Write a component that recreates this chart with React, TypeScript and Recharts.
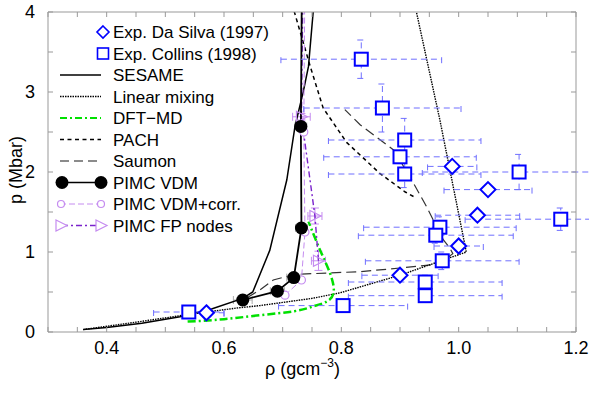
import { ComposedChart, Line, Scatter, XAxis, YAxis, ErrorBar } from 'recharts'

// experimental Hugoniot points, x = density, y = pressure, ex / ey = error
const daSilva = [
  { x: 0.57, y: 0.24, ex: 0.03 },
  { x: 0.9, y: 0.71, ex: 0.065 },
  { x: 1.0, y: 1.075, ex: 0.042 },
  { x: 1.032, y: 1.46, ex: 0.072 },
  { x: 1.05, y: 1.78, ex: 0.075 },
  { x: 0.989, y: 2.07, ex: 0.042 },
]

const collins = [
  { x: 0.834, y: 3.41, ex: 0.137, ey: 0.24 },
  { x: 0.87, y: 2.8, ex: 0.134, ey: 0.3 },
  { x: 0.908, y: 2.4, ex: 0.13, ey: 0.27 },
  { x: 0.9, y: 2.19, ex: 0.13, ey: 0 },
  { x: 0.908, y: 1.975, ex: 0.13, ey: 0.17 },
  { x: 1.103, y: 2.0, ex: 0.165, ey: 0.22 },
  { x: 1.174, y: 1.41, ex: 0.163, ey: 0.14 },
  { x: 0.968, y: 1.31, ex: 0.13, ey: 0.13 },
  { x: 0.961, y: 1.21, ex: 0.132, ey: 0.1 },
  { x: 0.972, y: 0.89, ex: 0.131, ey: 0.11 },
  { x: 0.943, y: 0.625, ex: 0.131, ey: 0 },
  { x: 0.943, y: 0.454, ex: 0.131, ey: 0 },
  { x: 0.803, y: 0.33, ex: 0.11, ey: 0 },
  { x: 0.54, y: 0.25, ex: 0.06, ey: 0 },
]

const sesame = [
  { x: 0.36, y: 0.03 },
  { x: 0.4, y: 0.055 },
  { x: 0.46, y: 0.11 },
  { x: 0.525, y: 0.19 },
  { x: 0.58, y: 0.29 },
  { x: 0.632, y: 0.42 },
  { x: 0.649, y: 0.5 },
  { x: 0.678, y: 1.02 },
  { x: 0.707, y: 1.9 },
  { x: 0.721, y: 2.57 },
  { x: 0.735, y: 3.0 },
  { x: 0.744, y: 3.32 },
  { x: 0.752, y: 4.0 },
]

const linearMixing = [
  { x: 0.36, y: 0.03 },
  { x: 0.457, y: 0.13 },
  { x: 0.54, y: 0.22 },
  { x: 0.622, y: 0.3 },
  { x: 0.661, y: 0.33 },
  { x: 0.75, y: 0.42 },
  { x: 0.798, y: 0.49 },
  { x: 0.872, y: 0.65 },
  { x: 0.9, y: 0.71 },
  { x: 1.013, y: 1.0 },
  { x: 0.968, y: 2.65 },
  { x: 0.928, y: 4.0 },
]

const dftMd = [
  { x: 0.538, y: 0.13 },
  { x: 0.6, y: 0.16 },
  { x: 0.661, y: 0.21 },
  { x: 0.72, y: 0.26 },
  { x: 0.752, y: 0.32 },
  { x: 0.775, y: 0.38 },
  { x: 0.787, y: 0.5 },
  { x: 0.781, y: 0.73 },
  { x: 0.764, y: 1.02 },
  { x: 0.744, y: 1.38 },
]

const pach = [
  { x: 0.716, y: 4.1 },
  { x: 0.747, y: 3.32 },
  { x: 0.769, y: 2.8 },
  { x: 0.809, y: 2.37 },
  { x: 0.866, y: 1.98 },
  { x: 0.909, y: 1.75 },
  { x: 0.924, y: 1.69 },
]

const saumon = [
  { x: 0.64, y: 0.43 },
  { x: 0.661, y: 0.525 },
  { x: 0.684, y: 0.65 },
  { x: 0.72, y: 0.72 },
  { x: 0.832, y: 0.754 },
  { x: 0.9, y: 0.8 },
  { x: 0.968, y: 0.85 },
  { x: 0.99, y: 0.98 },
  { x: 0.985, y: 1.05 },
  { x: 0.974, y: 1.15 },
  { x: 0.945, y: 1.57 },
  { x: 0.917, y: 1.94 },
  { x: 0.889, y: 2.275 },
  { x: 0.832, y: 2.59 },
  { x: 0.806, y: 2.78 },
]

const pimcVdm = [
  { x: 0.632, y: 0.4 },
  { x: 0.691, y: 0.51 },
  { x: 0.719, y: 0.68 },
  { x: 0.732, y: 1.3 },
  { x: 0.731, y: 2.57 },
  { x: 0.733, y: 4.6 },
]

const pimcVdmCorr = [
  { x: 0.704, y: 0.46 },
  { x: 0.732, y: 0.65 },
  { x: 0.738, y: 1.25 },
  { x: 0.736, y: 2.5 },
  { x: 0.738, y: 4.6 },
]

const pimcFp = [
  { x: 0.761, y: 0.89 },
  { x: 0.755, y: 1.45 },
  { x: 0.732, y: 2.69 },
  { x: 0.735, y: 4.6 },
]

const vdmErr = [
  { x: 0.632, y: 0.4, ex: 0.016, ey: 0.06 },
  { x: 0.691, y: 0.51, ex: 0.012, ey: 0.05 },
  { x: 0.719, y: 0.68, ex: 0.012, ey: 0.05 },
  { x: 0.732, y: 1.3, ex: 0.01, ey: 0.06 },
  { x: 0.731, y: 2.57, ex: 0.01, ey: 0.06 },
]

const fpErr = [
  { x: 0.761, y: 0.89, ex: 0.012, ey: 0.12 },
  { x: 0.755, y: 1.45, ex: 0.012, ey: 0.1 },
  { x: 0.732, y: 2.69, ex: 0.015, ey: 0.04 },
]

const legendRows = [
  'Exp. Da Silva (1997)',
  'Exp. Collins (1998)',
  'SESAME',
  'Linear mixing',
  'DFT\u2212MD',
  'PACH',
  'Saumon',
  'PIMC VDM',
  'PIMC VDM+corr.',
  'PIMC FP nodes',
]

const xTicks = [0.3, 0.35, 0.4, 0.45, 0.5, 0.55, 0.6, 0.65, 0.7, 0.75, 0.8, 0.85, 0.9, 0.95, 1.0, 1.05, 1.1, 1.15, 1.2]
const xLabels = ['0.4', '0.6', '0.8', '1.0', '1.2']
const yTicks = [0, 0.5, 1, 1.5, 2, 2.5, 3, 3.5, 4]
const yLabels = ['0', '1', '2', '3', '4']

const FONT = '"Liberation Sans", Arial, Helvetica, sans-serif'
const BLUE = '#0000ff'
const ERR = '#6f6fff'
const PURPLE_LIGHT = '#c58cf0'
const PURPLE_DARK = '#7a22cc'
const GREEN = '#00e000'
const FRAME = '#999'

const fmtX = (v: number) => {
  const s = v.toFixed(1)
  return Math.abs(v - Number(s)) < 1e-6 && xLabels.includes(s) ? s : ''
}
const fmtY = (v: number) => (yLabels.includes(String(v)) ? String(v) : '')

const Square = (p: any) => (
  <rect x={p.cx - 6.5} y={p.cy - 6.5} width={13} height={13} fill="#fff" stroke={BLUE} strokeWidth={2} />
)

const Diamond = (p: any) => (
  <polygon
    points={`${p.cx},${p.cy - 7.5} ${p.cx + 7.5},${p.cy} ${p.cx},${p.cy + 7.5} ${p.cx - 7.5},${p.cy}`}
    fill="#fff"
    stroke={BLUE}
    strokeWidth={2}
  />
)

const NoShape = () => <g />

const tri = (cx: number, cy: number) => `${cx - 5},${cy - 5.5} ${cx + 6},${cy} ${cx - 5},${cy + 5.5}`

function vdmDot(p: any) {
  if (p.payload.y > 4) return <g key={p.index} />
  return <circle key={p.index} cx={p.cx} cy={p.cy} r={6.5} fill="#000" />
}

function corrDot(p: any) {
  if (p.payload.y > 4) return <g key={p.index} />
  return <circle key={p.index} cx={p.cx} cy={p.cy} r={4} fill="#fff" stroke={PURPLE_LIGHT} strokeWidth={1.2} />
}

function fpDot(p: any) {
  if (p.payload.y > 4) return <g key={p.index} />
  return <polygon key={p.index} points={tri(p.cx, p.cy)} fill="none" stroke={PURPLE_LIGHT} strokeWidth={1.2} />
}

function LegendBox() {
  const y0 = 32
  const dy = 21.5
  const cy = (i: number) => y0 + i * dy
  return (
    <svg width={300} height={240} style={{ position: 'absolute', left: 0, top: 0, pointerEvents: 'none' }}>
      <polygon points={`103,${cy(0) - 6} 109,${cy(0)} 103,${cy(0) + 6} 97,${cy(0)}`} fill="#fff" stroke={BLUE} strokeWidth={1.6} />
      <rect x={97.5} y={cy(1) - 5.5} width={11} height={11} fill="#fff" stroke={BLUE} strokeWidth={1.6} />
      <line x1={60} x2={101} y1={cy(2)} y2={cy(2)} stroke="#000" strokeWidth={1.3} />
      <line x1={60} x2={101} y1={cy(3)} y2={cy(3)} stroke="#000" strokeWidth={1.3} strokeDasharray="1.5 1" />
      <line x1={60} x2={101} y1={cy(4)} y2={cy(4)} stroke={GREEN} strokeWidth={2} strokeDasharray="7 3 2 3" />
      <line x1={60} x2={101} y1={cy(5)} y2={cy(5)} stroke="#000" strokeWidth={1.3} strokeDasharray="4 3.5" />
      <line x1={60} x2={101} y1={cy(6)} y2={cy(6)} stroke="#666" strokeWidth={1.3} strokeDasharray="9 5" />
      <line x1={61} x2={101} y1={cy(7)} y2={cy(7)} stroke="#000" strokeWidth={1.5} />
      <circle cx={62} cy={cy(7)} r={6.5} fill="#000" />
      <circle cx={101} cy={cy(7)} r={6.5} fill="#000" />
      <line x1={60} x2={101} y1={cy(8)} y2={cy(8)} stroke={PURPLE_LIGHT} strokeWidth={1} strokeDasharray="6 3" />
      <circle cx={61} cy={cy(8)} r={3.5} fill="#fff" stroke={PURPLE_LIGHT} strokeWidth={1.2} />
      <circle cx={101} cy={cy(8)} r={3.5} fill="#fff" stroke={PURPLE_LIGHT} strokeWidth={1.2} />
      <line x1={62} x2={99} y1={cy(9)} y2={cy(9)} stroke={PURPLE_DARK} strokeWidth={1.3} strokeDasharray="6 3 2 3" />
      <polygon points={tri(61, cy(9))} fill="#fff" stroke={PURPLE_LIGHT} strokeWidth={1.2} />
      <polygon points={tri(101, cy(9))} fill="#fff" stroke={PURPLE_LIGHT} strokeWidth={1.2} />
      {legendRows.map((r, i) => (
        <text key={r} x={113} y={cy(i) + 6} fontSize={17} fontFamily={FONT} fill="#000">
          {r}
        </text>
      ))}
    </svg>
  )
}

function XLabel(props: any) {
  const vb = props.viewBox
  const x = vb.x + vb.width / 2 - 47
  const y = vb.y + 43
  return (
    <text x={x} y={y} fontSize={18} fontFamily={FONT} fill="#000">
      ρ (gcm
      <tspan dy={-8} fontSize={12}>−3</tspan>
      <tspan dy={8}>)</tspan>
    </text>
  )
}

function YLabel(props: any) {
  const vb = props.viewBox
  const x = vb.x + 14
  const y = vb.y + vb.height / 2 - 2
  return (
    <text x={x} y={y} fontSize={18} fontFamily={FONT} fill="#000" textAnchor="middle" transform={`rotate(-90 ${x} ${y})`}>
      p (Mbar)
    </text>
  )
}

export default function App() {
  return (
    <div style={{ position: 'absolute', left: 0, top: 0, width: 589, height: 393, fontFamily: FONT }}>
      <ComposedChart width={589} height={393} margin={{ top: 0, right: 8, bottom: 21, left: 8 }}>
        <XAxis
          type="number"
          dataKey="x"
          domain={[0.3, 1.2]}
          ticks={xTicks}
          tickFormatter={fmtX}
          allowDataOverflow
          height={40}
          tickSize={-5}
          tickMargin={14}
          stroke={FRAME}
          tick={{ fill: '#000', fontSize: 18, fontFamily: FONT }}
          interval={0}
          label={<XLabel />}
        />
        <XAxis
          xAxisId="top"
          orientation="top"
          type="number"
          dataKey="x"
          domain={[0.3, 1.2]}
          ticks={xTicks}
          tickFormatter={() => ''}
          allowDataOverflow
          height={12}
          tickSize={-5}
          stroke={FRAME}
          interval={0}
        />
        <YAxis
          type="number"
          domain={[0, 4]}
          ticks={yTicks}
          tickFormatter={fmtY}
          allowDataOverflow
          width={40}
          tickSize={-5}
          tickMargin={18}
          stroke={FRAME}
          tick={{ fill: '#000', fontSize: 18, fontFamily: FONT }}
          interval={0}
          label={<YLabel />}
        />
        <YAxis
          yAxisId="right"
          orientation="right"
          type="number"
          domain={[0, 4]}
          ticks={yTicks}
          tickFormatter={() => ''}
          allowDataOverflow
          width={5}
          tickSize={-5}
          stroke={FRAME}
          interval={0}
        />

        <Scatter data={vdmErr} dataKey="y" shape={NoShape} isAnimationActive={false}>
          <ErrorBar dataKey="ex" direction="x" width={4} stroke="#aaa" strokeWidth={1} isAnimationActive={false} />
          <ErrorBar dataKey="ey" direction="y" width={4} stroke="#aaa" strokeWidth={1} isAnimationActive={false} />
        </Scatter>
        <Scatter data={fpErr} dataKey="y" shape={NoShape} isAnimationActive={false}>
          <ErrorBar dataKey="ex" direction="x" width={4} stroke={PURPLE_LIGHT} strokeWidth={1} isAnimationActive={false} />
          <ErrorBar dataKey="ey" direction="y" width={4} stroke={PURPLE_LIGHT} strokeWidth={1} isAnimationActive={false} />
        </Scatter>

        <Line data={saumon} dataKey="y" type="linear" stroke="#333" strokeWidth={1.2} strokeDasharray="10 5" dot={false} isAnimationActive={false} />
        <Line data={pach} dataKey="y" type="linear" stroke="#000" strokeWidth={1.5} strokeDasharray="4 3.5" dot={false} isAnimationActive={false} />
        <Line data={linearMixing} dataKey="y" type="linear" stroke="#000" strokeWidth={1.4} strokeDasharray="1.5 1" dot={false} isAnimationActive={false} />
        <Line data={sesame} dataKey="y" type="linear" stroke="#000" strokeWidth={1.5} dot={false} isAnimationActive={false} />
        <Line data={dftMd} dataKey="y" type="natural" stroke={GREEN} strokeWidth={2.5} strokeDasharray="8 3 2 3" dot={false} isAnimationActive={false} />
        <Line data={pimcVdmCorr} dataKey="y" type="linear" stroke={PURPLE_LIGHT} strokeWidth={1} strokeDasharray="6 3" dot={corrDot} isAnimationActive={false} />
        <Line data={pimcFp} dataKey="y" type="linear" stroke={PURPLE_DARK} strokeWidth={1.4} strokeDasharray="6 3 2 3" dot={fpDot} isAnimationActive={false} />
        <Line data={pimcVdm} dataKey="y" type="linear" stroke="#000" strokeWidth={1.8} dot={vdmDot} isAnimationActive={false} />

        <Scatter data={collins} dataKey="y" shape={Square} isAnimationActive={false}>
          <ErrorBar dataKey="ex" direction="x" width={4} stroke={ERR} strokeWidth={1} strokeDasharray="6 4" isAnimationActive={false} />
          <ErrorBar dataKey="ey" direction="y" width={4} stroke={ERR} strokeWidth={1} strokeDasharray="6 4" isAnimationActive={false} />
        </Scatter>
        <Scatter data={daSilva} dataKey="y" shape={Diamond} isAnimationActive={false}>
          <ErrorBar dataKey="ex" direction="x" width={4} stroke={ERR} strokeWidth={1} strokeDasharray="6 4" isAnimationActive={false} />
        </Scatter>
      </ComposedChart>
      <LegendBox />
    </div>
  )
}
